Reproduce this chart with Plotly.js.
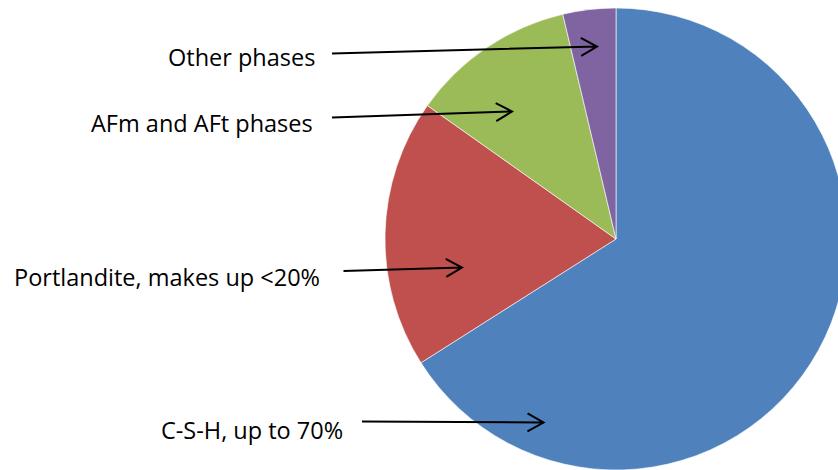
<!DOCTYPE html>
<html>
<head>
<meta charset="utf-8">
<script src="https://cdn.plot.ly/plotly-3.0.1.min.js"></script>
<style>
  html, body { margin: 0; padding: 0; overflow: hidden; background: #fff; }
  #chart { width: 860px; height: 470px; }
</style>
</head>
<body>
<div id="chart"></div>
<script>
// Hydrated cement paste: share of each phase
const phases = ['C-S-H', 'Portlandite', 'AFm and AFt phases', 'Other phases'];
const shares = [66, 18.8, 11.5, 3.7];
const calloutText = ['C-S-H, up to 70%', 'Portlandite, makes up <20%', 'AFm and AFt phases', 'Other phases'];
const sliceColors = ['#4F81BD', '#C0504D', '#9BBB59', '#8064A2'];

// Figure geometry (pixels)
const W = 860, H = 470;
const M = { l: 0, r: 0, t: 8, b: 0 };
const PW = W - M.l - M.r, PH = H - M.t - M.b;
const cx = 616, R = 231;

// pixel -> paper coordinates
const px = x => (x - M.l) / PW;
const py = y => 1 - (y - M.t) / PH;

// Callout arrows: tail and head points in pixels, and text anchor
const callouts = [
  { tail: [362, 421.5], head: [543.5, 422.5], tx: 344.5, ty: 429.5 },
  { tail: [343.5, 271], head: [462, 267.5], tx: 322, ty: 276.5 },
  { tail: [332, 117.5], head: [512, 111.5], tx: 315, ty: 122.5 },
  { tail: [332, 53.5], head: [597, 46.5], tx: 316.5, ty: 57.5 }
];

function arrowPath(c) {
  const [x0, y0] = c.tail, [x1, y1] = c.head;
  const dx = x1 - x0, dy = y1 - y0, L = Math.hypot(dx, dy);
  const ux = dx / L, uy = dy / L;
  const back = 16, half = 9;
  const ax = x1 - ux * back - uy * half, ay = y1 - uy * back + ux * half;
  const bx = x1 - ux * back + uy * half, by = y1 - uy * back - ux * half;
  const f = (x, y) => px(x).toFixed(5) + ',' + py(y).toFixed(5);
  return 'M' + f(x0, y0) + 'L' + f(x1, y1) +
         'M' + f(ax, ay) + 'L' + f(x1, y1) + 'L' + f(bx, by);
}

const trace = {
  type: 'pie',
  labels: phases,
  values: shares,
  sort: false,
  direction: 'clockwise',
  rotation: 0,
  textinfo: 'none',
  hoverinfo: 'label+percent',
  marker: { colors: sliceColors, line: { color: '#ffffff', width: 0.6 } },
  domain: { x: [px(cx - R), px(cx + R)], y: [0, 1] },
  showlegend: false
};

const labelFont = { family: '"Open Sans", "Noto Sans", sans-serif', size: 23.5, color: '#000000' };

const layout = {
  width: W,
  height: H,
  margin: M,
  paper_bgcolor: '#ffffff',
  plot_bgcolor: '#ffffff',
  showlegend: false,
  font: labelFont,
  shapes: callouts.map(c => ({
    type: 'path',
    xref: 'paper', yref: 'paper',
    path: arrowPath(c),
    line: { color: '#000000', width: 2 }
  })),
  annotations: callouts.map((c, i) => ({
    xref: 'paper', yref: 'paper',
    x: px(c.tx), y: py(c.ty),
    xanchor: 'right', yanchor: 'middle',
    text: calloutText[i],
    showarrow: false,
    font: labelFont
  }))
};

Plotly.newPlot('chart', [trace], layout, { staticPlot: true, displayModeBar: false });
</script>
</body>
</html>
